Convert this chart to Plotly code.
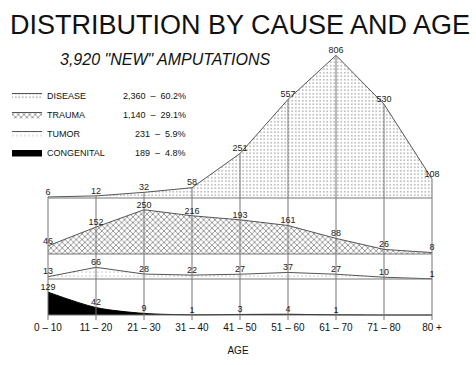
import plotly.graph_objects as go

# ---------------- data ----------------
ages = ["0 – 10", "11 – 20", "21 – 30", "31 – 40", "41 – 50",
        "51 – 60", "61 – 70", "71 – 80", "80 +"]
disease = [6, 12, 32, 58, 251, 557, 806, 530, 108]
trauma = [46, 152, 250, 216, 193, 161, 88, 26, 8]
tumor = [13, 66, 28, 22, 27, 37, 27, 10, 1]
congenital = [129, 42, 9, 1, 3, 4, 1, 0, 0]

cause_names = ["DISEASE", "TRAUMA", "TUMOR", "CONGENITAL"]
cause_totals = ["2,360", "1,140", "231", "189"]
cause_percents = ["60.2%", "29.1%", "5.9%", "4.8%"]

title_text = "DISTRIBUTION BY CAUSE AND AGE"
subtitle_text = "3,920 \"NEW\" AMPUTATIONS"

# ---------------- layout constants ----------------
W, H = 476, 365
MT, MB = 50, 45
PH = H - MT - MB              # plot height in px
S = 0.177                     # px per case
Y0 = -5 / S                   # bottom of the y range
Y1 = Y0 + PH / S
X0 = -1
X1 = (W - 48) / 48

def base(px_above_bottom):
    return px_above_bottom / S + Y0

bases = [base(122), base(66), base(41), base(5)]
series = [disease, trauma, tumor, congenital]
idx = list(range(len(ages)))

patterns = [
    dict(shape=".", fgcolor="#666666", bgcolor="white", size=3.5, solidity=0.22),
    dict(shape="x", fgcolor="#222222", bgcolor="white", size=4, solidity=0.4),
    dict(shape=".", fgcolor="#9a9a9a", bgcolor="white", size=4, solidity=0.15),
    None,
]

FONT = "Liberation Sans"
fig = go.Figure()

for name, vals, b, pat in zip(cause_names, series, bases, patterns):
    fig.add_trace(go.Scatter(x=idx, y=[b] * len(idx), mode="lines",
                             line=dict(width=0, color="rgba(0,0,0,0)"),
                             showlegend=False, hoverinfo="skip"))
    top = [b + v for v in vals]
    kw = dict(x=idx, y=top, mode="lines", name=name, fill="tonexty")
    if pat is None:
        fig.add_trace(go.Scatter(**kw, fillcolor="black",
                                 line=dict(color="black", width=1, shape="spline", smoothing=0.8)))
    else:
        fig.add_trace(go.Scatter(**kw, fillpattern=pat, fillcolor="white",
                                 line=dict(color="#555555", width=1)))

# vertical guide lines and baselines
gx, gy = [], []
top_d = [bases[0] + v for v in disease]
for i in idx:
    gx += [i, i, None]
    gy += [Y0, top_d[i], None]
for b in bases:
    gx += [idx[0], idx[-1], None]
    gy += [b, b, None]
fig.add_trace(go.Scatter(x=gx, y=gy, mode="lines", line=dict(color="#777777", width=1),
                         showlegend=False, hoverinfo="skip"))

# value labels
for vals, b in zip(series, bases):
    fig.add_trace(go.Scatter(x=idx, y=[b + v for v in vals], mode="text",
                             text=[str(v) if v > 0 else "" for v in vals],
                             textposition="top center", cliponaxis=False,
                             textfont=dict(family=FONT, size=9, color="#222222"),
                             showlegend=False, hoverinfo="skip"))

def py(px):
    return (H - MB - px) / PH

ann = [
    dict(text=title_text, x=8 / W, y=py(25), xref="paper", yref="paper",
         xanchor="left", yanchor="middle",
         showarrow=False, font=dict(family=FONT, size=27, color="#111111")),
    dict(text="<i>" + subtitle_text + "</i>", x=58 / W, y=py(59), xref="paper", yref="paper",
         xanchor="left", yanchor="middle",
         showarrow=False, font=dict(family=FONT, size=16, color="#111111")),
]
row_y0, row_dy = 96, 19
for k in range(4):
    yy = py(row_y0 + k * row_dy)
    ann.append(dict(text=cause_totals[k] + "  –  " + cause_percents[k], x=188 / W, y=yy,
                    xref="paper", yref="paper", xanchor="right", yanchor="middle",
                    showarrow=False, font=dict(family=FONT, size=9, color="#111111")))

fig.update_layout(
    width=W, height=H,
    margin=dict(l=0, r=0, t=MT, b=MB),
    paper_bgcolor="white", plot_bgcolor="white",
    font=dict(family=FONT, color="#111111"),
    showlegend=True,
    legend=dict(x=7 / W, y=py(81), xanchor="left", yanchor="top", traceorder="normal",
                font=dict(family=FONT, size=9, color="#111111"),
                bgcolor="rgba(0,0,0,0)", itemwidth=30, tracegroupgap=0),
    annotations=ann,
    xaxis=dict(range=[X0, X1], tickmode="array", tickvals=idx, ticktext=ages,
               showgrid=False, zeroline=False, showline=False, ticks="",
               tickfont=dict(family=FONT, size=10, color="#111111"),
               title=dict(text="AGE", font=dict(family=FONT, size=10, color="#111111"), standoff=14)),
    yaxis=dict(range=[Y0, Y1], visible=False),
)

fig.write_html("out.html", config={"displayModeBar": False},
               post_script="document.body.style.margin='0';")
